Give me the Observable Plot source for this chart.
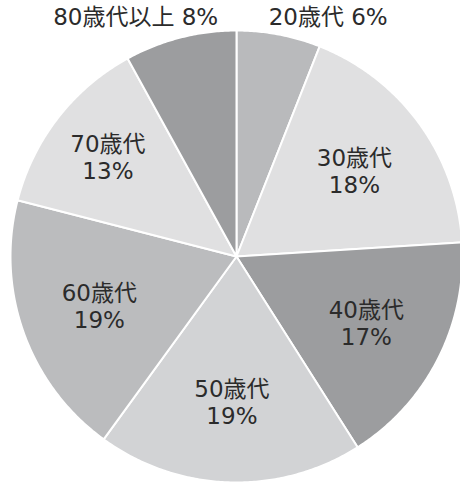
<!DOCTYPE html>
<html>
<head>
<meta charset="utf-8">
<script src="https://cdn.jsdelivr.net/npm/d3@7"></script>
<script src="https://cdn.jsdelivr.net/npm/@observablehq/plot@0.6"></script>
<style>
  html, body { margin: 0; padding: 0; background: #fff; }
  #chart svg { display: block; }
</style>
</head>
<body>
<div id="chart"></div>
<script>
// ---- data ----
const categories = ["20歳代", "30歳代", "40歳代", "50歳代", "60歳代", "70歳代", "80歳代以上"];
const shares = [6, 18, 17, 19, 19, 13, 8];
const colors = ["#b9babc", "#e0e0e1", "#9c9d9f", "#d2d3d5", "#bbbcbe", "#e0e0e1", "#9c9d9f"];
const outside = [true, false, false, false, false, false, true];

// ---- layout ----
const W = 460, H = 485, CX = 236, CY = 256, R = 226;

const pie = d3.pie().sort(null).value(d => d.share);
const rows = categories.map((c, i) => ({cat: c, share: shares[i], color: colors[i], outside: outside[i]}));
const arcs = pie(rows);

// polygon points for each wedge in unit-radius coordinates (angle 0 = 12 o'clock, clockwise)
const wedgePts = [];
arcs.forEach((a, i) => {
  wedgePts.push({i, x: 0, y: 0, color: a.data.color});
  const n = Math.max(2, Math.ceil((a.endAngle - a.startAngle) / (Math.PI / 360)));
  for (let k = 0; k <= n; k++) {
    const t = a.startAngle + (a.endAngle - a.startAngle) * k / n;
    wedgePts.push({i, x: Math.sin(t), y: Math.cos(t), color: a.data.color});
  }
});

const labels = arcs.map(a => {
  const mid = (a.startAngle + a.endAngle) / 2;
  const r = a.data.outside ? 1.09 : (a.data.share < 15 ? 0.72 : 0.645);
  return {
    x: r * Math.sin(mid), y: r * Math.cos(mid),
    text: a.data.outside ? `${a.data.cat} ${a.data.share}%` : `${a.data.cat}\n${a.data.share}%`,
    outside: a.data.outside, side: Math.sin(mid) >= 0 ? "right" : "left"
  };
});

const font = "'DejaVu Sans', 'Noto Sans CJK JP', sans-serif";
const textColor = "#2b2b2b";

const chart = Plot.plot({
  width: W, height: H,
  margin: 0,
  x: {type: "linear", domain: [-CX / R, (W - CX) / R], range: [0, W], axis: null},
  y: {type: "linear", domain: [-(H - CY) / R, CY / R], range: [H, 0], axis: null},
  color: {type: "identity"},
  style: {fontFamily: font, background: "#fff"},
  marks: [
    Plot.line(wedgePts, {x: "x", y: "y", z: "i", fill: "color", stroke: "#fff", strokeWidth: 2, curve: "linear-closed"}),
    Plot.text(labels.filter(d => !d.outside), {x: "x", y: "y", text: "text", fontSize: 23, lineHeight: 1.17, fill: textColor, fontFamily: font}),
    Plot.text(labels.filter(d => d.outside && d.side === "right"), {x: "x", y: "y", text: "text", fontSize: 23, fill: textColor, textAnchor: "start", dx: -14, dy: 3.5, fontFamily: font}),
    Plot.text(labels.filter(d => d.outside && d.side === "left"), {x: "x", y: "y", text: "text", fontSize: 23, fill: textColor, textAnchor: "end", dx: 43, fontFamily: font})
  ]
});
document.getElementById("chart").appendChild(chart);
</script>
</body>
</html>
